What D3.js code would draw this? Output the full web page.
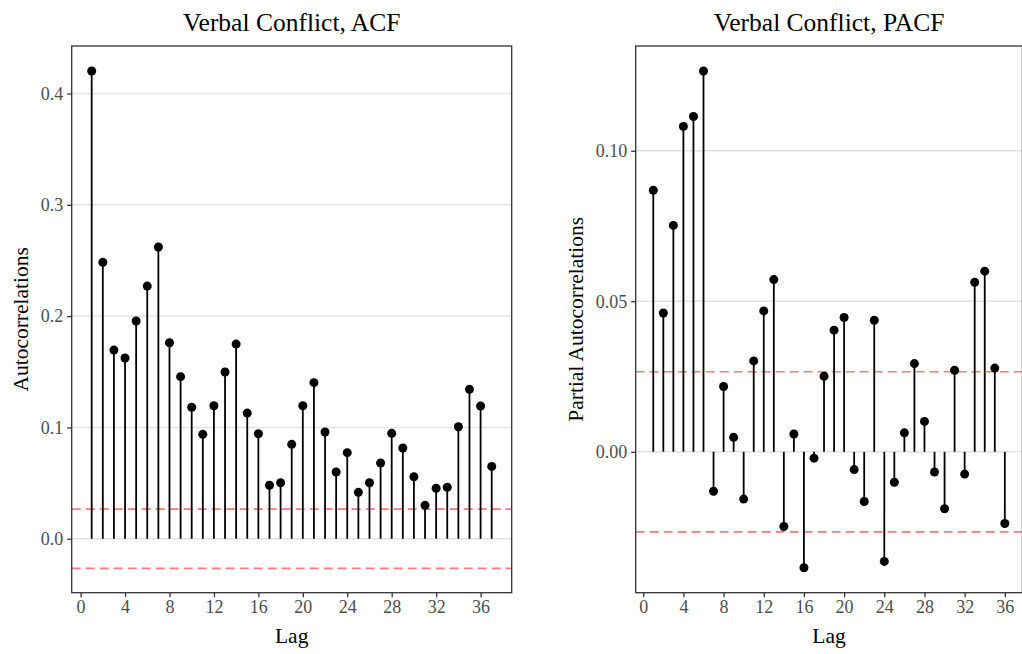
<!DOCTYPE html>
<html><head><meta charset="utf-8">
<script src="https://cdn.jsdelivr.net/npm/d3@7"></script>
<style>body{margin:0;background:#fff}svg{display:block}</style>
</head><body>
<script>
const acfLags = d3.range(1, 38);
const acfValues = [0.4202,0.2483,0.1695,0.1624,0.1956,0.2270,0.2621,0.1761,0.1456,0.1181,
  0.0938,0.1195,0.1498,0.1749,0.1129,0.0943,0.0480,0.0503,0.0848,0.1195,
  0.1402,0.0959,0.0599,0.0773,0.0417,0.0503,0.0680,0.0947,0.0815,0.0557,
  0.0300,0.0453,0.0462,0.1006,0.1342,0.1192,0.0650];
const pacfLags = d3.range(1, 37);
const pacfValues = [0.0869,0.0461,0.0752,0.1081,0.1114,0.1265,-0.0131,0.0217,0.0048,-0.0157,
  0.0302,0.0468,0.0572,-0.0248,0.0059,-0.0385,-0.0021,0.0251,0.0404,0.0446,
  -0.0059,-0.0165,0.0437,-0.0364,-0.0101,0.0063,0.0293,0.0101,-0.0067,-0.0189,
  0.0271,-0.0074,0.0563,0.0600,0.0278,-0.0238];
const ciBound = 0.0266;
const xTicks = [0,4,8,12,16,20,24,28,32,36];
const acfYTicks = [0.0,0.1,0.2,0.3,0.4];
const pacfYTicks = [0.00,0.05,0.10];

const W = 1022, H = 654;
const svg = d3.select("body").append("svg").attr("width", W).attr("height", H)
  .style("font-family", "'Liberation Serif','Times New Roman',serif");

function panel(opt) {
  const x = d3.scaleLinear().domain(opt.xDomain).range([opt.left, opt.right]);
  const y = d3.scaleLinear().domain(opt.yDomain).range([opt.bottom, opt.top]);
  const g = svg.append("g");
  g.append("defs").append("clipPath").attr("id", opt.id)
    .append("rect").attr("x", opt.left).attr("y", opt.top)
    .attr("width", opt.right - opt.left).attr("height", opt.bottom - opt.top);
  const body = g.append("g").attr("clip-path", `url(#${opt.id})`);
  // grid
  body.selectAll(".grid").data(opt.yTicks).join("line")
    .attr("x1", opt.left).attr("x2", opt.right)
    .attr("y1", d => y(d)).attr("y2", d => y(d))
    .attr("stroke", "#e3e3e3").attr("stroke-width", 1.5);
  // CI lines
  body.selectAll(".ci").data([ciBound, -ciBound]).join("line")
    .attr("x1", opt.left).attr("x2", opt.right)
    .attr("y1", d => y(d)).attr("y2", d => y(d))
    .attr("stroke", "#ff7a7a").attr("stroke-width", 1.6)
    .attr("stroke-dasharray", "9,5");
  // stems
  body.selectAll(".stem").data(opt.lags).join("line")
    .attr("x1", d => x(d)).attr("x2", d => x(d))
    .attr("y1", y(0)).attr("y2", (d, i) => y(opt.values[i]))
    .attr("stroke", "#000").attr("stroke-width", 1.8);
  body.selectAll(".pt").data(opt.lags).join("circle")
    .attr("cx", d => x(d)).attr("cy", (d, i) => y(opt.values[i]))
    .attr("r", 4.5).attr("fill", "#000");
  // border
  g.append("rect").attr("x", opt.left).attr("y", opt.top)
    .attr("width", opt.right - opt.left).attr("height", opt.bottom - opt.top)
    .attr("fill", "none").attr("stroke", "#333").attr("stroke-width", 1.3);
  // axes
  const xa = g.append("g").attr("transform", `translate(0,${opt.bottom})`)
    .call(d3.axisBottom(x).tickValues(xTicks).tickSize(4.5).tickPadding(3).tickFormat(d3.format("d")));
  xa.select(".domain").remove();
  xa.selectAll("line").attr("stroke", "#333").attr("stroke-width", 1.3);
  xa.selectAll("text").attr("fill", "#4d4d4d").style("font-size", "18px")
    .style("font-family", "'Liberation Serif',serif");
  const ya = g.append("g").attr("transform", `translate(${opt.left},0)`)
    .call(d3.axisLeft(y).tickValues(opt.yTicks).tickSize(4.5).tickPadding(4).tickFormat(d3.format(opt.fmt)));
  ya.select(".domain").remove();
  ya.selectAll("line").attr("stroke", "#333").attr("stroke-width", 1.3);
  ya.selectAll("text").attr("fill", "#4d4d4d").style("font-size", "18px")
    .style("font-family", "'Liberation Serif',serif");
  // titles
  const cx = (opt.left + opt.right) / 2, cy = (opt.top + opt.bottom) / 2;
  g.append("text").attr("x", cx).attr("y", 31).attr("text-anchor", "middle")
    .style("font-size", "25.5px").attr("fill", "#000").text(opt.title);
  g.append("text").attr("x", cx).attr("y", 643).attr("text-anchor", "middle")
    .style("font-size", "21.5px").attr("fill", "#000").text("Lag");
  g.append("text").attr("transform", `translate(${opt.ylabX},${cy}) rotate(-90)`)
    .attr("text-anchor", "middle").style("font-size", "21.5px").attr("fill", "#000")
    .text(opt.ylab);
}

panel({id: "c1", left: 71.7, right: 511.7, top: 46, bottom: 592.7,
  xDomain: [-0.8, 38.8], yDomain: [-0.0485, 0.4427],
  lags: acfLags, values: acfValues, yTicks: acfYTicks, fmt: ".1f",
  title: "Verbal Conflict, ACF", ylab: "Autocorrelations", ylabX: 28});
panel({id: "c2", left: 635.7, right: 1022.4, top: 46, bottom: 592.7,
  xDomain: [-0.75, 37.75], yDomain: [-0.0468, 0.1348],
  lags: pacfLags, values: pacfValues, yTicks: pacfYTicks, fmt: ".2f",
  title: "Verbal Conflict, PACF", ylab: "Partial Autocorrelations", ylabX: 583});
</script>
</body></html>
